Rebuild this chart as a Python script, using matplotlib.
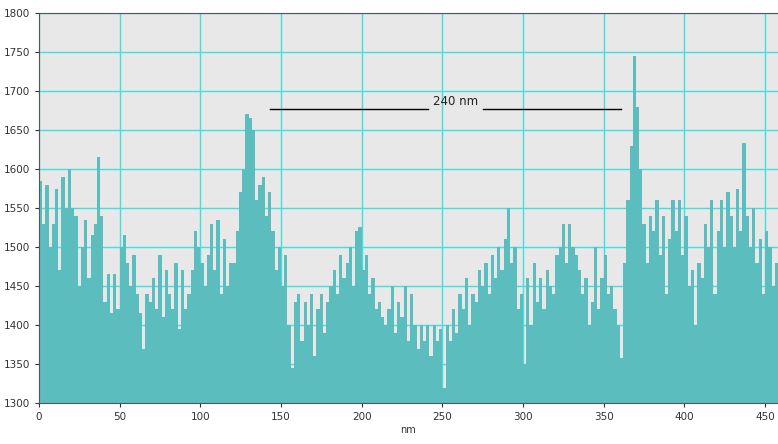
import numpy as np
import matplotlib.pyplot as plt

step = 2
heights = [
    1585, 1530, 1580, 1500, 1530, 1575, 1470, 1590, 1550, 1600,
    1550, 1540, 1450, 1500, 1535, 1460, 1515, 1530, 1615, 1540,
    1430, 1465, 1415, 1465, 1420, 1500, 1515, 1480, 1450, 1490,
    1440, 1415, 1370, 1440, 1430, 1460, 1420, 1490, 1410, 1470,
    1440, 1420, 1480, 1395, 1470, 1420, 1440, 1470, 1520, 1500,
    1480, 1450, 1490, 1530, 1470, 1535, 1440, 1510, 1450, 1480,
    1480, 1520, 1570, 1600, 1670, 1665, 1650, 1560, 1580, 1590,
    1540, 1570, 1520, 1470, 1500, 1450, 1490, 1400, 1345, 1430,
    1440, 1380, 1430, 1400, 1440, 1360, 1420, 1440, 1390, 1430,
    1450, 1470, 1440, 1490, 1460, 1480, 1500, 1450, 1520, 1526,
    1470, 1490, 1440, 1460, 1420, 1430, 1410, 1400, 1420, 1450,
    1390, 1430, 1410, 1450, 1380, 1440, 1400, 1370, 1400, 1380,
    1400, 1360, 1400, 1380, 1395, 1320, 1400, 1380, 1420, 1390,
    1440, 1420, 1460, 1400, 1440, 1430, 1470, 1450, 1480, 1440,
    1490, 1460, 1500, 1470, 1510, 1550, 1480, 1500, 1420, 1440,
    1350, 1460, 1400, 1480, 1430, 1460, 1420, 1470, 1450, 1440,
    1490, 1500, 1530, 1480, 1530, 1500, 1490, 1470, 1440, 1460,
    1400, 1430, 1500, 1420, 1460, 1490, 1440, 1450, 1420, 1400,
    1358, 1480, 1560, 1630, 1745, 1680, 1600, 1530, 1480, 1540,
    1520, 1560, 1490, 1540, 1440, 1510, 1560, 1520, 1560, 1490,
    1540, 1450, 1470, 1400, 1480, 1460, 1530, 1500, 1560, 1440,
    1520, 1560, 1500, 1570, 1540, 1500, 1575, 1520, 1633, 1540,
    1500, 1550, 1480, 1510, 1440, 1520, 1500, 1450, 1480, 1440,
]
x_nm = np.arange(len(heights)) * step

marker_start, marker_end, marker_y = 143, 361, 1677
marker_text = "240 nm"

fig = plt.figure(figsize=(7.78, 4.44), dpi=100)
ax = fig.add_axes([0.050, 0.092, 0.950, 0.879])
ax.set_facecolor('#e8e8e8')

ax.bar(x_nm, np.array(heights) - 1300, bottom=1300, width=step,
       align='edge', color='#5bbdbd', linewidth=0)

ax.set_xlim(0, 458)
ax.set_ylim(1300, 1800)
ax.set_xticks(np.arange(0, 451, 50))
ax.set_yticks(np.arange(1300, 1801, 50))
ax.set_axisbelow(True)
ax.grid(True, color='#3fe0e0', linewidth=1.0)

for s in ['left', 'top', 'bottom']:
    ax.spines[s].set_color('#555555')
ax.spines['right'].set_visible(False)
ax.tick_params(labelsize=7.5, colors='#333333', length=3, width=0.8)
ax.set_xlabel('nm', fontsize=7, color='#333333', labelpad=2)

# scale bar with label in the middle
ax.plot([marker_start, 241], [marker_y, marker_y], color='black', linewidth=1)
ax.plot([275, marker_end], [marker_y, marker_y], color='black', linewidth=1)
ax.text(258, marker_y + 1, marker_text, ha='center', va='bottom',
        fontsize=8.5, color='#222222')

fig.savefig('out.png', dpi=100)
